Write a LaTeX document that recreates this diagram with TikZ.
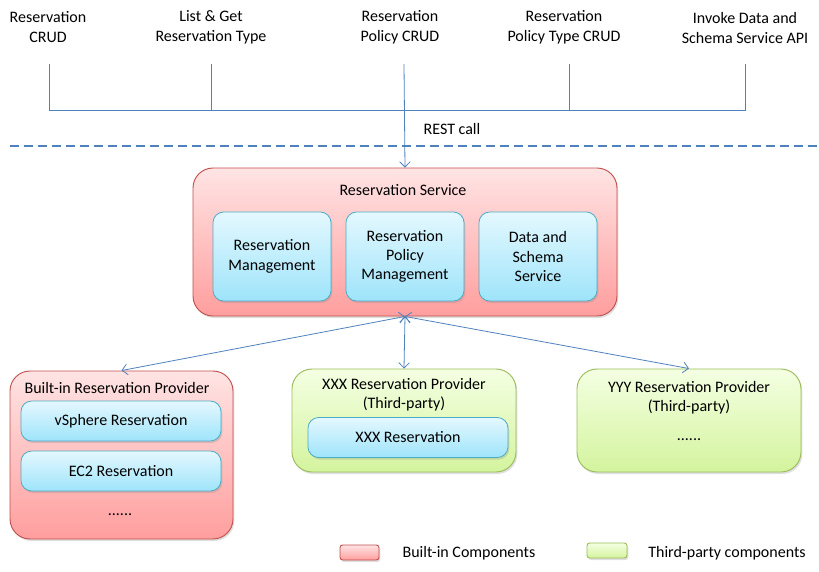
\documentclass[tikz,border=0pt]{standalone}
\usepackage{fontspec}
\setmainfont{Carlito}
\usetikzlibrary{arrows.meta,shadows,positioning}

\definecolor{redline}{RGB}{192,80,77}
\definecolor{redtop}{RGB}{255,228,228}
\definecolor{redbot}{RGB}{255,158,158}
\definecolor{blueline}{RGB}{75,172,198}
\definecolor{bluetop}{RGB}{228,248,255}
\definecolor{bluebot}{RGB}{158,228,250}
\definecolor{greenline}{RGB}{155,187,89}
\definecolor{greentop}{RGB}{244,255,226}
\definecolor{greenbot}{RGB}{212,244,158}
\definecolor{wire}{RGB}{79,129,189}

\tikzset{
  txt/.style={align=center, font=\fontsize{12}{14.5}\selectfont, inner sep=0pt},
  builtinbox/.style={draw=redline, line width=0.7pt, top color=redtop, bottom color=redbot,
    rounded corners=15pt, drop shadow={shadow xshift=1pt, shadow yshift=-1.5pt, opacity=0.25}},
  thirdbox/.style={draw=greenline, line width=0.7pt, top color=greentop, bottom color=greenbot,
    rounded corners=15pt, drop shadow={shadow xshift=1pt, shadow yshift=-1.5pt, opacity=0.25}},
  modbox/.style={txt, draw=blueline, line width=0.6pt, top color=bluetop, bottom color=bluebot,
    rounded corners=8pt, drop shadow={shadow xshift=1pt, shadow yshift=-1.5pt, opacity=0.25}},
  conn/.style={wire, line width=0.6pt},
  biarrow/.style={conn, {Straight Barb[length=4pt,width=8pt]}-{Straight Barb[length=4pt,width=8pt]}},
}

\begin{document}
\begin{tikzpicture}[x=0.75pt, y=-0.75pt]
  \useasboundingbox (0,0) rectangle (819,572);

  % operations on top
  \foreach \i/\x/\lx/\op in {1/49/48/{Reservation\\CRUD},
                             2/211/211/{List \& Get\\Reservation Type},
                             3/404/400/{Reservation\\Policy CRUD},
                             4/569/564/{Reservation\\Policy Type CRUD},
                             5/745/745/{Invoke Data and\\Schema Service API}} {
    \node[txt, font=\fontsize{12}{15}\selectfont] (op\i) at (\lx,27.5) {\op};
    \coordinate (top\i) at (\x,64);
  }
  \coordinate (bus) at (0,110);
  \draw[conn] (top1) -- (top1 |- bus) -- (top5 |- bus) -- (top5);
  \draw[conn] (top2) -- (top2 |- bus);
  \draw[conn] (top4) -- (top4 |- bus);

  \node[txt] (rest) at (452,129) {REST call};
  \draw[wire, line width=1.5pt, dash pattern=on 6.5pt off 4pt] (10,146) -- (819,146);

  % reservation service
  \node[builtinbox, minimum width=318pt, minimum height=111pt] (rs) at (405,242) {};
  \node[txt] (rstitle) at (403,190.5) {Reservation Service};
  \node[modbox, minimum width=88.5pt, minimum height=66.75pt] (rm) at (272,256.5) {Reservation\\Management};
  \node[modbox, minimum width=88.5pt, minimum height=66.75pt] (rpm) at (405,256.5) {Reservation\\Policy\\Management};
  \node[modbox, minimum width=88.5pt, minimum height=66.75pt] (dss) at (538,256.5) {Data and\\Schema\\Service};
  \draw[conn, -{Straight Barb[length=4pt,width=8pt]}] (top3) -- (rs.north);

  % providers
  \node[builtinbox, minimum width=167.25pt, minimum height=126pt] (builtin) at (121.5,455) {};
  \node[txt] (builtintitle) at (117,388) {Built-in Reservation Provider};
  \node[modbox, minimum width=150pt, minimum height=30pt] (vsphere) at (121,421) {vSphere Reservation};
  \node[modbox, minimum width=150pt, minimum height=30pt] (ec2) at (121,471) {EC2 Reservation};
  \node[txt] (builtinmore) at (120,515) {......};

  \node[thirdbox, minimum width=168pt, minimum height=77.25pt] (xxx) at (404,420.5) {};
  \node[txt] (xxxtitle) at (404,395) {XXX Reservation Provider\\(Third-party)};
  \node[modbox, minimum width=150pt, minimum height=30pt] (xxxres) at (408,437.5) {XXX Reservation};

  \node[thirdbox, minimum width=168pt, minimum height=77.25pt] (yyy) at (689,420.5) {};
  \node[txt] (yyytitle) at (689,398) {YYY Reservation Provider\\(Third-party)};
  \node[txt] (yyymore) at (689,440) {......};

  \draw[biarrow] (rs.south) -- (builtin.north);
  \draw[biarrow] (rs.south) -- (xxx.north);
  \draw[biarrow] (rs.south) -- (yyy.north);

  % legend
  \node[builtinbox, rounded corners=2pt, minimum width=29.25pt, minimum height=11.25pt] (legbuiltin) at (359.5,552.5) {};
  \node[txt] (legbuiltintxt) at (469,553) {Built-in Components};
  \node[thirdbox, rounded corners=2pt, minimum width=30pt, minimum height=11.25pt] (legthird) at (607,550.5) {};
  \node[txt] (legthirdtxt) at (727,553) {Third-party components};
\end{tikzpicture}
\end{document}
